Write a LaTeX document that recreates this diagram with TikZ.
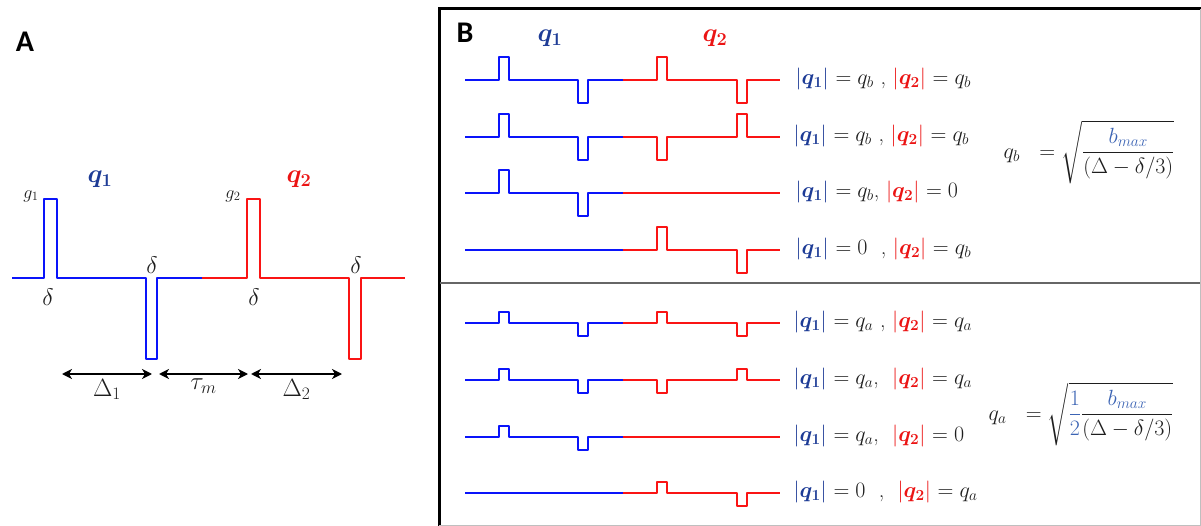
\RequirePackage{fix-cm}
\documentclass[tikz,border=0pt]{standalone}
\usepackage{amsmath}
\usepackage{bm}
\usepackage{fontspec}
\setsansfont{Carlito}
\usetikzlibrary{arrows.meta, positioning}

\definecolor{wblue}{RGB}{10,20,250}
\definecolor{wred}{RGB}{250,20,20}
\definecolor{tblue}{RGB}{30,60,150}
\definecolor{tred}{RGB}{235,20,20}
\definecolor{fblue}{RGB}{60,100,180}
\definecolor{ink}{RGB}{30,30,30}

\begin{document}
\begin{tikzpicture}[x=1pt, y=-1pt, >={Stealth[length=10pt, width=10pt, inset=3pt]},
		wave/.style={line width=2.6pt, line join=round},
		panel/.style={font=\sffamily\bfseries\fontsize{30}{32}\selectfont, text=black},
		qlbl/.style={font=\fontsize{26}{28}\selectfont},
		dlbl/.style={font=\fontsize{24}{26}\selectfont, text=ink},
		gain/.style={font=\fontsize{18}{20}\selectfont, text=ink},
		gap/.style={font=\fontsize{25}{27}\selectfont, text=ink, below=1pt},
		cond/.style={font=\fontsize{22}{24}\selectfont, text=ink, anchor=west},
		eqn/.style={font=\fontsize{22}{24}\selectfont, text=ink}]
		
		\useasboundingbox (0,0) rectangle (1201,526);
		
		% panel A
		\node[panel] (pa) at (25,42) {A};
		\draw[wave, wblue] (12,278) -- (44,278) -- (44,199) -- (57,199) -- (57,278) -- (146,278) -- (146,359) -- (157,359) -- (157,278) -- (203,278);
		\draw[wave, wred] (202,278) -- (247,278) -- (247,199) -- (260,199) -- (260,278) -- (349,278) -- (349,359) -- (361,359) -- (361,278) -- (405,278);
		
		\node[qlbl, text=tblue] (qa1) at (100,179) {$\bm{q_1}$};
		\node[qlbl, text=tred] (qa2) at (299,179) {$\bm{q_2}$};
		\node[gain] (g1) at (31,196) {$g_1$};
		\node[gain] (g2) at (233,196) {$g_2$};
		\node[dlbl] (d1) at (48,297) {$\delta$};
		\node[dlbl] (d2) at (152,265) {$\delta$};
		\node[dlbl] (d3) at (254,297) {$\delta$};
		\node[dlbl] (d4) at (356,265) {$\delta$};
		
		\coordinate (a1) at (62,374);
		\coordinate (a2) at (152,374);
		\coordinate (a3) at (159,374);
		\coordinate (a4) at (248,374);
		\coordinate (a5) at (251,374);
		\coordinate (a6) at (342,374);
		\draw[<->, line width=1.6pt] (a1) -- node[gap] {$\Delta_1$} (a2);
		\draw[<->, line width=1.6pt] (a3) -- node[gap] {$\tau_m$} (a4);
		\draw[<->, line width=1.6pt] (a5) -- node[gap] {$\Delta_2$} (a6);
		
		% panel B
		\draw[line width=3pt] (439,526) -- (439,9) -- (1201,9);
		\draw[black!25, line width=1pt] (1200,9) -- (1200,525.5) -- (439,525.5);
		\draw[black!60, line width=1.6pt] (440,283) -- (1200,283);
		\node[panel] (pb) at (465,33) {B};
		\node[qlbl, text=tblue] (qb1) at (550,38) {$\bm{q_1}$};
		\node[qlbl, text=tred] (qb2) at (715,38) {$\bm{q_2}$};
		
		\foreach \y/\bt/\bb/\ra/\rb in {80/57/103/57/103, 137/114/160/160/114, 193/170/216/193/193, 250/250/250/227/273,
				323/312/336/312/336, 380/369/393/393/369, 437/426/450/437/437, 493/493/493/482/506}{
			\draw[wave, wblue] (465,\y) -- (499,\y) -- (499,\bt) -- (509,\bt) -- (509,\y) -- (578,\y) -- (578,\bb) -- (588,\bb) -- (588,\y) -- (624,\y);
			\draw[wave, wred] (623,\y) -- (657,\y) -- (657,\ra) -- (667,\ra) -- (667,\y) -- (737,\y) -- (737,\rb) -- (747,\rb) -- (747,\y) -- (780,\y);
		}
		
		\node[cond] (c1) at (792,79) {$\color{tblue}|\bm{q_1}|$ $= q_b$ , $\color{tred}|\bm{q_2}|$ $= q_b$};
		\node[cond] (c2) at (790,136) {$\color{tblue}|\bm{q_1}|$ $= q_b$ , $\color{tred}|\bm{q_2}|$ $= q_b$};
		\node[cond] (c3) at (792,192) {$\color{tblue}|\bm{q_1}|$ $= q_b$, $\color{tred}|\bm{q_2}|$ $= 0$};
		\node[cond] (c4) at (792,249) {$\color{tblue}|\bm{q_1}|$ $= 0$ \ , $\color{tred}|\bm{q_2}|$ $= q_b$};
		\node[cond] (c5) at (790,322) {$\color{tblue}|\bm{q_1}|$ $= q_a$ , $\color{tred}|\bm{q_2}|$ $= q_a$};
		\node[cond] (c6) at (790,379) {$\color{tblue}|\bm{q_1}|$ $= q_a$, \ $\color{tred}|\bm{q_2}|$ $= q_a$};
		\node[cond] (c7) at (790,436) {$\color{tblue}|\bm{q_1}|$ $= q_a$, \ $\color{tred}|\bm{q_2}|$ $= 0$};
		\node[cond] (c8) at (790,492) {$\color{tblue}|\bm{q_1}|$ $= 0$ \ , \ $\color{tred}|\bm{q_2}|$ $= q_a$};
		
		\node[eqn, anchor=west] (eqb) at (1000,152) {$q_b\ \ = \sqrt{\dfrac{\color{fblue}b_{max}}{(\Delta-\delta/3)}}$};
		\node[eqn, anchor=west] (eqa) at (985,414) {$q_a\ \ = \sqrt{{\color{fblue}\dfrac{1}{2}}\dfrac{\color{fblue}b_{max}}{(\Delta-\delta/3)}}$};
	\end{tikzpicture}
\end{document}
